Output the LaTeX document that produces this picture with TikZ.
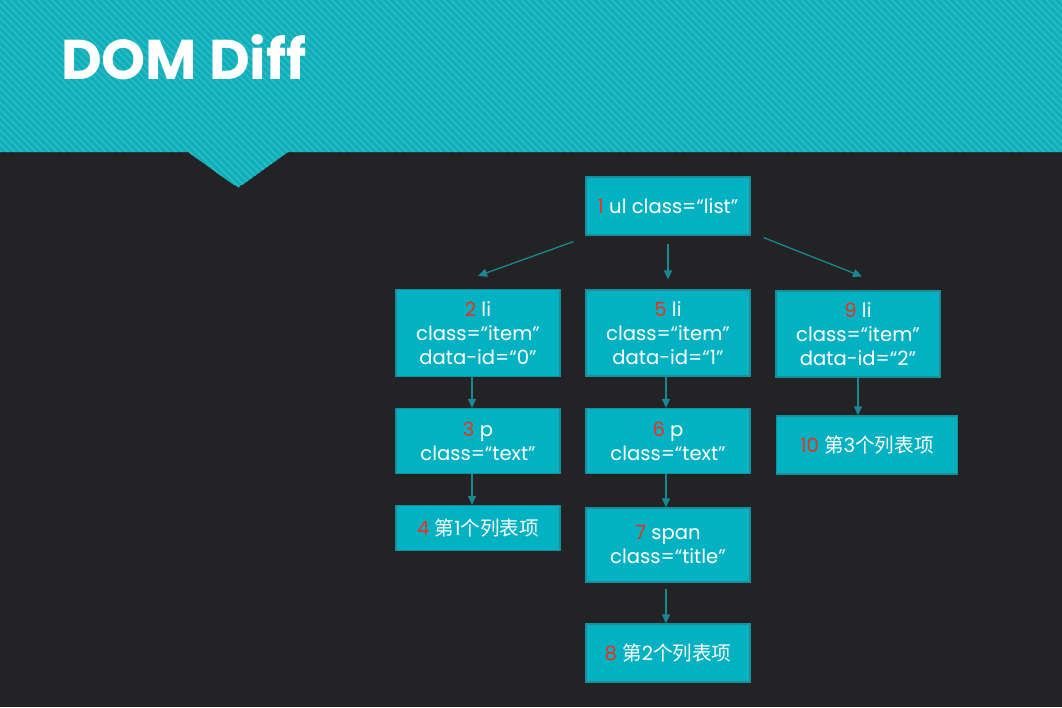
\documentclass[tikz,border=0pt]{standalone}
\usepackage{fontspec}
\setmainfont{Poppins}
\newfontfamily\cjk{Noto Sans CJK SC}
\usepackage{tikz}
\usetikzlibrary{arrows.meta}
\definecolor{domteal}{HTML}{0FAFBA}
\definecolor{domstripe}{HTML}{2CBAC4}
\definecolor{domback}{HTML}{232224}
\definecolor{domfill}{HTML}{03B2C2}
\definecolor{domedge}{HTML}{15909B}
\definecolor{domarrow}{HTML}{178894}
\definecolor{domred}{HTML}{E8321F}
\newcommand{\tagno}[1]{\textcolor{domred}{#1}}

\begin{document}
\begin{tikzpicture}[x=1pt,y=-1pt,
  tagbox/.style={rectangle,draw=domedge,line width=1.2pt,fill=domfill,text=white,align=center,minimum width=164pt,inner sep=2pt,font=\fontsize{19.6}{24}\selectfont},
  link/.style={-{Triangle[length=9pt,width=8pt]},line width=1.3pt,domarrow},
  stripe/.style={domstripe,line width=1.5pt}]
  \useasboundingbox[fill=domback] (0,0) rectangle (1062,707);
  % banner with notch
  \fill[domteal] (0,0) -- (1062,0) -- (1062,152) -- (288,152)
     [rounded corners=5pt] -- (238,188) [sharp corners] -- (188,152) -- (0,152) -- cycle;
  \begin{scope}
    \clip (0,0) -- (1062,0) -- (1062,152) -- (288,152) -- (238,188) -- (188,152) -- (0,152) -- cycle;
    \foreach \i in {-200,-193,...,1070} \draw[stripe] (\i,0) -- ++(200,200);
  \end{scope}
  \node[font=\fontsize{56}{56}\selectfont\bfseries,text=white,anchor=west,inner sep=0pt] (title) at (61,57) {DOM Diff};
  % tree
  \node[tagbox,minimum height=58pt] (ul) at (668,206) {\tagno{1} ul class=“list”};
  \node[tagbox,minimum height=87pt] (li0) at (478,333) {\tagno{2} li\\class=“item”\\data-id=“0”};
  \node[tagbox,minimum height=86pt] (li1) at (668,333) {\tagno{5} li\\class=“item”\\data-id=“1”};
  \node[tagbox,minimum height=86pt] (li2) at (858,334) {\tagno{9} li\\class=“item”\\data-id=“2”};
  \node[tagbox,minimum height=65pt] (p0) at (478,441) {\tagno{3} p\\class=“text”};
  \node[tagbox,minimum height=65pt] (p1) at (668,441) {\tagno{6} p\\class=“text”};
  \node[tagbox,minimum height=58pt,minimum width=181pt] (txt2) at (867,445) {\tagno{10} {\cjk 第}3{\cjk 个列表项}};
  \node[tagbox,minimum height=45pt] (txt0) at (478,528) {\tagno{4} {\cjk 第}1{\cjk 个列表项}};
  \node[tagbox,minimum height=74pt] (span1) at (668,545) {\tagno{7} span\\class=“title”};
  \node[tagbox,minimum height=58pt] (txt1) at (668,653) {\tagno{8} {\cjk 第}2{\cjk 个列表项}};
  \draw[link] ([xshift=-12pt,yshift=-6pt]ul.south west) -- ([yshift=13pt]li0.north);
  \draw[link] ([yshift=-8pt]ul.south) -- ([yshift=10pt]li1.north);
  \draw[link] ([xshift=13pt,yshift=-2pt]ul.south east) -- ([xshift=4pt,yshift=14pt]li2.north);
  \draw[link] ([xshift=-6pt]li0.south) -- ([xshift=-6pt]p0.north);
  \draw[link] ([xshift=-6pt]p0.south) -- ([xshift=-6pt]txt0.north);
  \draw[link] ([xshift=-2pt]li1.south) -- ([xshift=-2pt]p1.north);
  \draw[link] ([xshift=-2pt]p1.south) -- ([xshift=-2pt]span1.north);
  \draw[link] ([xshift=-2pt,yshift=-6pt]span1.south) -- ([xshift=-2pt]txt1.north);
  \draw[link] (li2.south) -- (li2.south |- txt2.north);
\end{tikzpicture}
\end{document}
